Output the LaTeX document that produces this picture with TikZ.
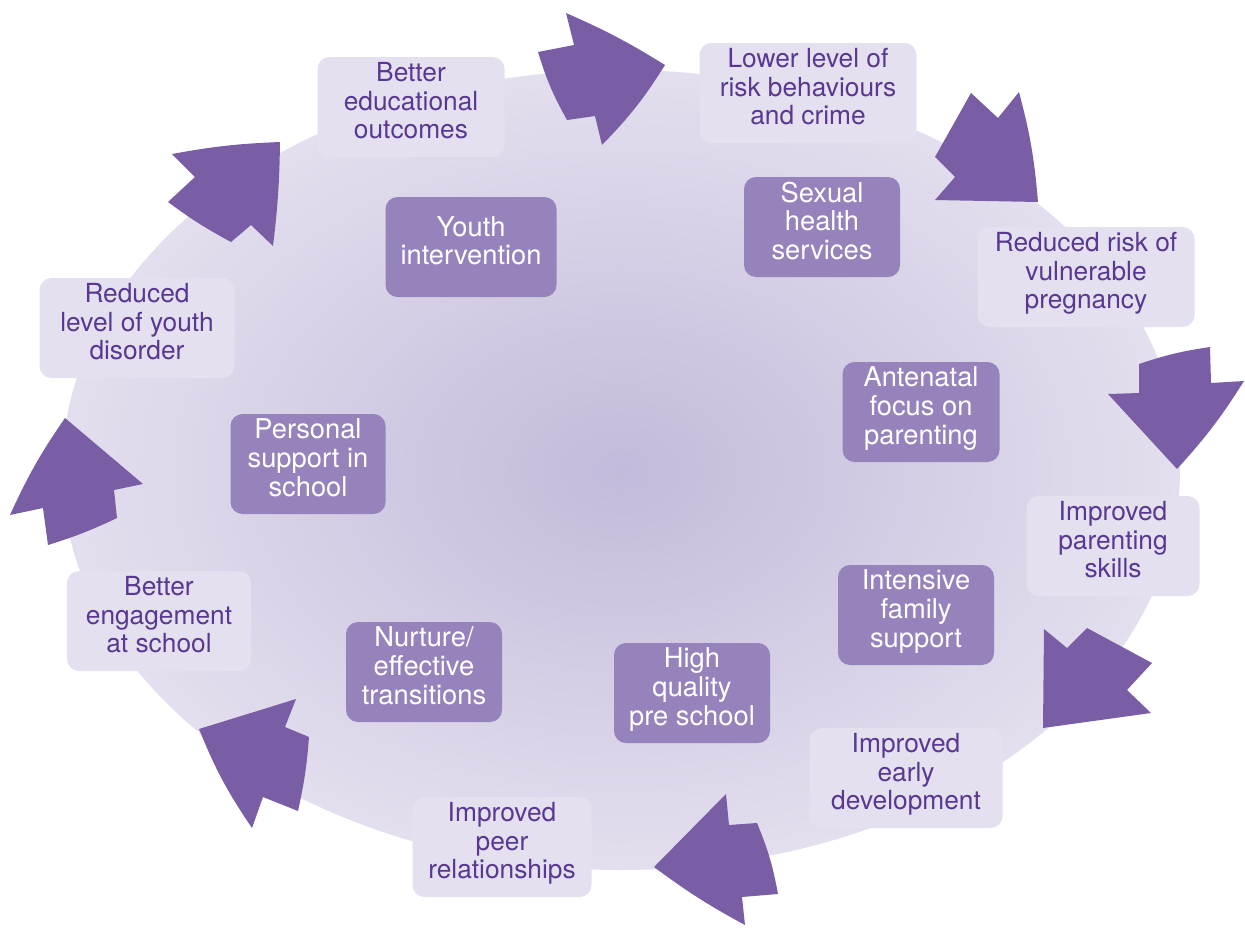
\documentclass[tikz,border=0pt]{standalone}
\usepackage{fontspec}
\setmainfont{TeX Gyre Heros}
\definecolor{ellin}{RGB}{196,186,219}
\definecolor{ellout}{RGB}{227,223,238}
\definecolor{outbox}{RGB}{228,224,239}
\definecolor{inbox}{RGB}{150,131,188}
\definecolor{arrowc}{RGB}{121,94,166}
\definecolor{darktext}{RGB}{88,56,145}
\begin{document}
\begin{tikzpicture}[x=1pt,y=-1pt,
  outcome/.style={rectangle, rounded corners=12pt, fill=outbox, text=darktext,
    align=center, inner sep=0pt, minimum height=100pt, text depth=13pt,
    font=\fontsize{26.3}{28.7}\selectfont},
  service/.style={rectangle, rounded corners=12pt, fill=inbox, text=white,
    align=center, inner sep=0pt, minimum height=100pt, text depth=13pt,
    font=\fontsize{27.3}{28.7}\selectfont},
  bigarrow/.style={fill=arrowc, draw=none}]
\useasboundingbox (0,0) rectangle (1245,927);
\fill[white] (0,0) rectangle (1245,927);
% background ellipse
\shade[inner color=ellin, outer color=ellout] (621,470) ellipse [x radius=559pt, y radius=400pt];

% arrows
\fill[bigarrow] (665,65) to[bend left=6] (602,145) -- (595,116) -- (567,120) to[bend left=6] (538,52) -- (574,45) -- (566,13) to[bend left=4] cycle;
\fill[bigarrow] (1038,202) -- (935,200) -- (955,177) -- (935,157) -- (971,93) -- (998,118) -- (1019,92) to[bend left=5] cycle;
\fill[bigarrow] (1177,469) -- (1108,394) -- (1139,393) -- (1139,364) to[bend left=5] (1210,347) -- (1211,383) -- (1244,381) to[bend left=5] cycle;
\fill[bigarrow] (1043,728) -- (1044,629) -- (1067,648) -- (1087,628) -- (1152,663) -- (1127,690) -- (1151,713) -- cycle;
\fill[bigarrow] (654,867) -- (726,794) -- (729,825) -- (757,823) to[bend left=6] (778,894) -- (742,897) -- (745,925) to[bend left=4] cycle;
\fill[bigarrow] (199,729) -- (296,699) -- (285,727) -- (309,737) to[bend left=4] (298,811) -- (263,797) -- (252,828) to[bend right=-6] cycle;
\fill[bigarrow] (65,418) -- (143,484) -- (114,490) -- (117,518) to[bend left=4] (48,545) -- (43,508) -- (10,515) to[bend left=5] cycle;
\fill[bigarrow] (280,142) to[bend left=3] (273,246) -- (251,225) -- (231,242) to[bend left=4] (168,202) -- (195,177) -- (172,154) to[bend left=4] cycle;

% outcome boxes
\node[outcome, minimum width=187pt] (edu) at (411,107) {Better\\educational\\outcomes};
\node[outcome, minimum width=217pt] (risk) at (808,93) {Lower level of\\risk behaviours\\and crime};
\node[outcome, minimum width=217pt] (preg) at (1086,277) {Reduced risk of\\vulnerable\\pregnancy};
\node[outcome, minimum width=173pt] (par) at (1113,546) {Improved\\parenting\\skills};
\node[outcome, minimum width=193pt] (early) at (906,778) {Improved\\early\\development};
\node[outcome, minimum width=179pt] (peer) at (502,847) {Improved\\peer\\relationships};
\node[outcome, minimum width=184pt] (eng) at (159,621) {Better\\engagement\\at school};
\node[outcome, minimum width=195pt] (dis) at (137,328) {Reduced\\level of youth\\disorder};

% service boxes
\node[service, minimum width=171pt] (youth) at (471,247) {Youth\\intervention};
\node[service, minimum width=156pt] (sex) at (822,227) {Sexual\\health\\services};
\node[service, minimum width=157pt] (ante) at (921,412) {Antenatal\\focus on\\parenting};
\node[service, minimum width=156pt] (fam) at (916,615) {Intensive\\family\\support};
\node[service, minimum width=156pt] (pre) at (692,693) {High\\quality\\pre school};
\node[service, minimum width=156pt] (nur) at (424,672) {Nurture/\\effective\\transitions};
\node[service, minimum width=155pt] (pers) at (308,464) {Personal\\support in\\school};
\end{tikzpicture}
\end{document}
